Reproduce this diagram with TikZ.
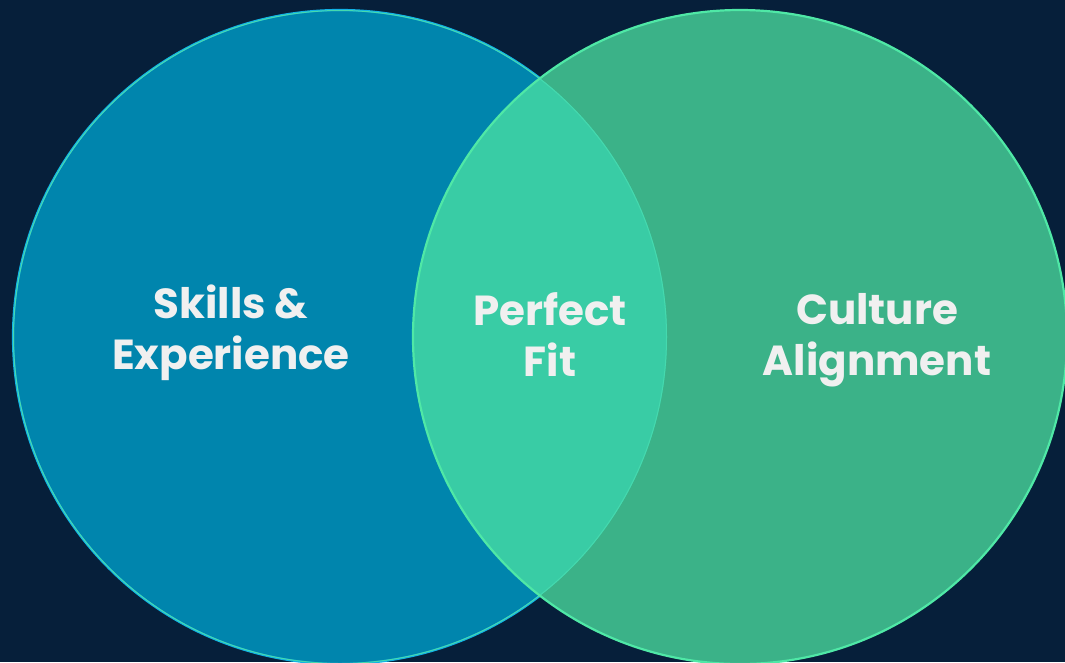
\documentclass[tikz,border=0pt]{standalone}
\usepackage{fontspec}
\setmainfont{Poppins}[BoldFont={* Bold}]
\definecolor{bgc}{HTML}{061F3A}
\definecolor{leftfill}{HTML}{0085AD}
\definecolor{leftline}{HTML}{10B2E6}
\definecolor{rightfill}{HTML}{3BB288}
\definecolor{rightline}{HTML}{4FE8A6}
\definecolor{midfill}{HTML}{39CCA5}
\definecolor{midline}{HTML}{45D9AE}
\definecolor{txt}{HTML}{F0F0F0}
\begin{document}
\begin{tikzpicture}[x=1pt,y=-1pt,
  lbl/.style={text=txt,align=center,inner sep=0pt,font=\fontsize{42}{51}\selectfont\bfseries}]
\useasboundingbox (0,0) rectangle (1065,662);
\fill[bgc] (0,0) rectangle (1065,662);
\coordinate (L) at (340,337);
\coordinate (R) at (740,337);
% left circle
\fill[leftfill] (L) circle[radius=327];
\draw[leftline,line width=2.2] (L) circle[radius=327];
% right circle
\fill[rightfill] (R) circle[radius=327];
\begin{scope}
  \clip (L) circle[radius=327];
  \fill[midfill] (R) circle[radius=327];
  \draw[midline,line width=2] (L) circle[radius=327];
\end{scope}
\draw[rightline,line width=2.2] (R) circle[radius=327];
% labels
\node[lbl] (skills) at (231,332.5) {Skills \&\\Experience};
\node[lbl] (fit) at (550,335) {Perfect\\Fit};
\node[lbl] (culture) at (877,340.5) {Culture\\Alignment};
\end{tikzpicture}
\end{document}
